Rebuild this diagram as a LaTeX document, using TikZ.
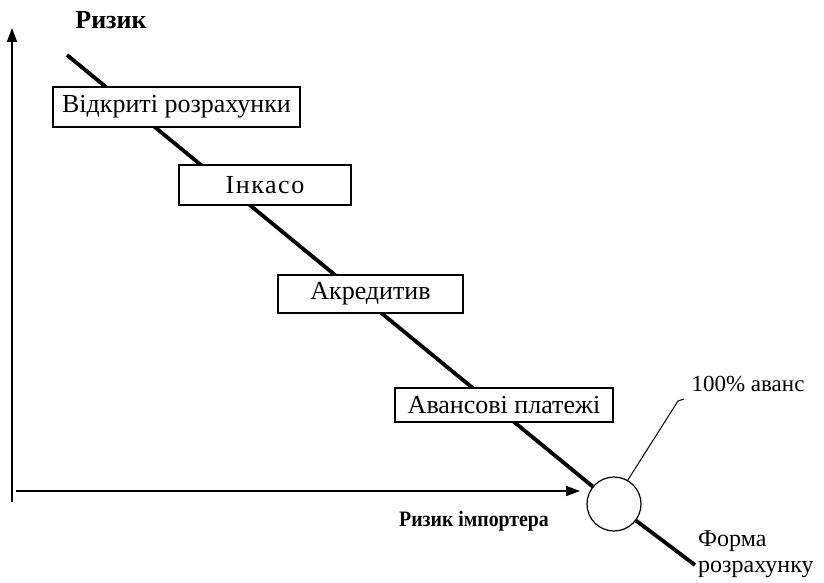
\documentclass[tikz,border=0pt]{standalone}
\usepackage{fontspec}
\setmainfont{Liberation Serif}
\newfontfamily\narrowfont[FakeStretch=0.9]{Liberation Serif}
\usetikzlibrary{arrows.meta,positioning}

\begin{document}
\begin{tikzpicture}[x=1pt,y=-1pt]
\tikzset{stage/.style = {shape=rectangle,draw,fill=white,line width=1.2pt,inner sep=0pt,font=\fontsize{26}{30}\selectfont}}
\tikzset{axis/.style = {line width=1.6pt,-{Triangle[length=14pt,width=10pt]}}}
\tikzset{note/.style = {inner sep=0pt,font=\fontsize{23}{26}\selectfont}}
\useasboundingbox (0,0) rectangle (824,583);
% axes
\coordinate (o) at (12,502);
\coordinate (ytip) at (12,28);
\coordinate (xstart) at (16,491);
\coordinate (xtip) at (580,491);
\draw[axis] (o) -- (ytip);
\draw[axis] (xstart) -- (xtip);
\node[font=\fontsize{26}{30}\selectfont\bfseries] (risk) at (111,20) {Ризик};
\node[font=\fontsize{22}{26}\selectfont\narrowfont\bfseries] (imp) at (474,521) {Ризик імпортера};
% risk line
\node[shape=circle,draw,fill=white,line width=1.2pt,minimum size=54pt,inner sep=0pt] (adv) at (614,504) {};
\coordinate (top) at (67,55);
\coordinate (bottom) at (695,565);
\draw[line width=3.8pt] (top) -- (adv);
\draw[line width=3.8pt] (adv) -- (bottom);
% forms
\node[stage,minimum width=247pt,minimum height=40pt] (open) at (176.5,107) {Відкриті розрахунки};
\node[stage,minimum width=172pt,minimum height=40pt] (coll) at (265,185) {\addfontfeature{LetterSpace=6}Інкасо};
\node[stage,minimum width=185pt,minimum height=38pt] (lc) at (370.5,294) {Акредитив};
\node[stage,minimum width=218pt,minimum height=34pt] (prepay) at (504,405) {Авансові платежі};
% notes
\coordinate (knee) at (678,401);
\coordinate (kneeend) at (684,399);
\draw[line width=1pt] (adv.60) -- (knee) -- (kneeend);
\node[note] (full) at (748,384) {100\% аванс};
\node[note,font=\fontsize{24}{26}\selectfont,anchor=north west,align=left] (form) at (698,531) {Форма\\розрахунку};
\end{tikzpicture}
\end{document}
